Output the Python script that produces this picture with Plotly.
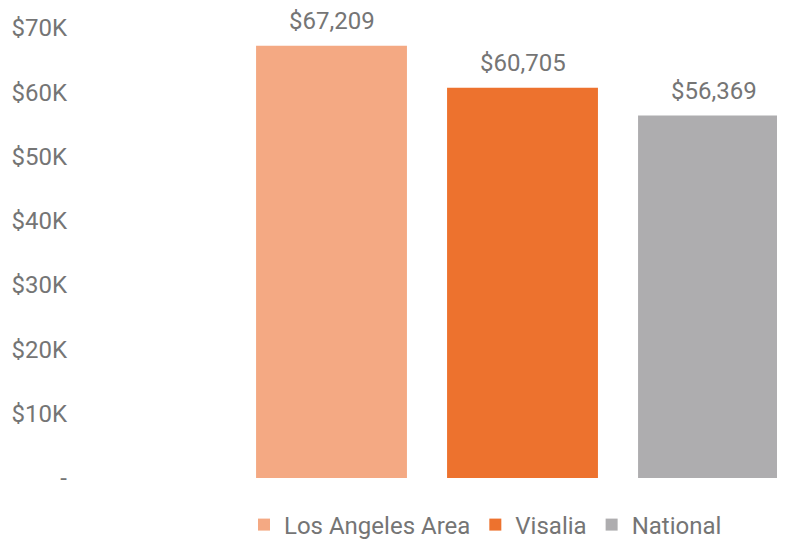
import plotly.graph_objects as go

categories = ["Los Angeles Area", "Visalia", "National"]
values = [67209, 60705, 56369]
colors = ["#F4A983", "#ED722E", "#AEADAF"]
tick_vals = [0, 10000, 20000, 30000, 40000, 50000, 60000, 70000]
tick_text = ["-", "$10K", "$20K", "$30K", "$40K", "$50K", "$60K", "$70K"]

FONT = "Roboto"
GRAY = "#757575"

# the page body adds an 8px offset; the figure is sized to fill the rest of the window
W, H = 777, 532
L, T, B = 72, 7, 62

fig = go.Figure()
for i, (name, v, c) in enumerate(zip(categories, values, colors)):
    fig.add_trace(go.Bar(
        x=[i], y=[v], name=name, marker=dict(color=c, line=dict(width=0)),
        width=0.79, hoverinfo="skip",
    ))
    fig.add_annotation(x=i, y=v, text=f"${v:,}", showarrow=False,
                       yanchor="bottom", yshift=11, borderpad=0, height=26,
                       font=dict(family=FONT, size=24, color=GRAY))

fig.update_layout(
    width=W, height=H,
    margin=dict(l=L, r=0, t=T, b=B, autoexpand=False),
    paper_bgcolor="white", plot_bgcolor="white",
    barmode="overlay",
    font=dict(family=FONT, size=24, color=GRAY),
    showlegend=True,
    legend=dict(orientation="h", x=236 / W, xref="container", xanchor="left",
                y=15 / H, yref="container", yanchor="middle",
                font=dict(family=FONT, size=24, color=GRAY),
                itemwidth=30, tracegroupgap=0),
    xaxis=dict(range=[(80 - 331.5) / 191, (785 - 331.5) / 191], showticklabels=False,
               showgrid=False, zeroline=False, showline=False, automargin=False),
    yaxis=dict(range=[0, 72000], tickvals=tick_vals, ticktext=tick_text,
               showgrid=False, zeroline=False, showline=False, automargin=False,
               tickfont=dict(family=FONT, size=24, color=GRAY),
               ticklabelstandoff=12),
)

fig.write_html("out.html")
